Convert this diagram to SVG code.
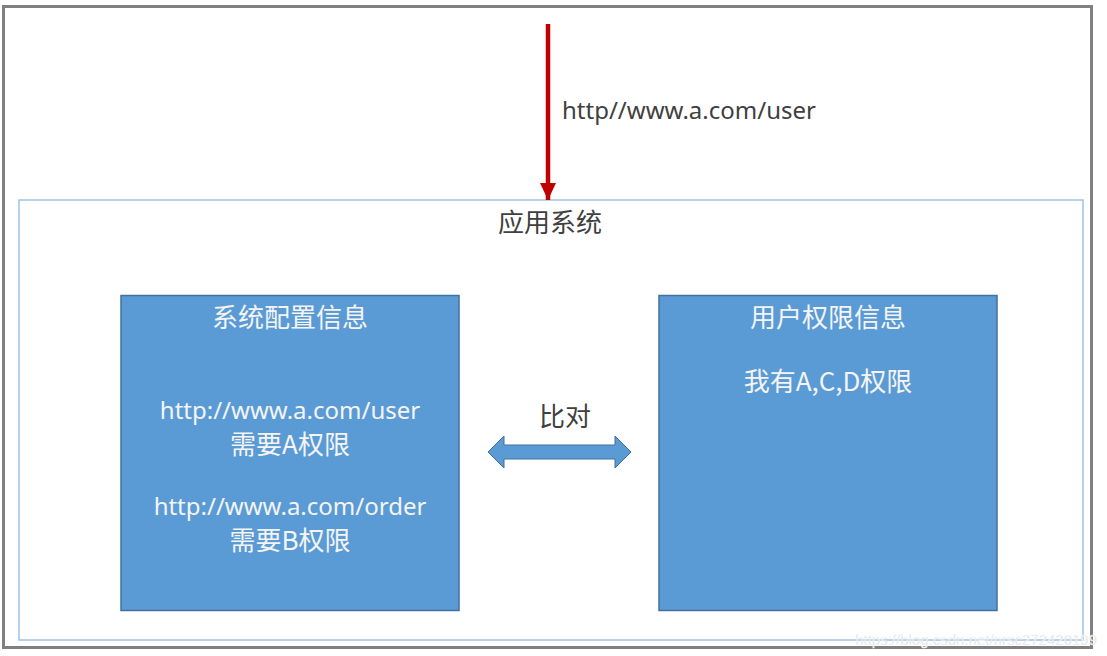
<svg xmlns="http://www.w3.org/2000/svg" width="1107" height="656" viewBox="0 0 1107 656">
<defs>
<style>
.t{font-family:"Noto Sans","Noto Sans CJK SC",sans-serif;font-size:24px;}
.c{font-family:"Noto Sans CJK SC",sans-serif;font-size:26px;}
.dark{fill:#404040;}
.light{fill:#F4F4F4;text-anchor:middle;}
.box{fill:#5B9BD5;stroke:#41719C;stroke-width:1.5;}
</style>
<marker id="redHead" markerUnits="userSpaceOnUse" markerWidth="18" markerHeight="18" refX="17" refY="9" orient="auto" viewBox="0 0 18 18">
<path d="M0,1 L17,9 L0,17 Z" fill="#C00000"/>
</marker>
</defs>
<rect x="0" y="0" width="1107" height="656" fill="#FFFFFF"/>
<rect id="frame" x="3.5" y="6.5" width="1088" height="641" fill="none" stroke="#808080" stroke-width="3"/>
<g id="app-system">
<rect x="19" y="200" width="1064" height="440" fill="none" stroke="#9DC3E6" stroke-width="1.5"/>
<text class="c dark" x="550" y="232" text-anchor="middle">应用系统</text>
</g>
<g id="sys-config">
<rect class="box" x="121" y="295.5" width="338" height="315"/>
<text class="c light" x="290" y="327">系统配置信息</text>
<text class="t light" x="290" y="419">http://www.a.com/user</text>
<text class="c light" x="290" y="454">需要A权限</text>
<text class="t light" x="290" y="515">http://www.a.com/order</text>
<text class="c light" x="290" y="550">需要B权限</text>
</g>
<g id="user-perm">
<rect class="box" x="659" y="295.5" width="338" height="315"/>
<text class="c light" x="828" y="327">用户权限信息</text>
<text class="c light" x="828" y="391">我有A,C,D权限</text>
</g>
<g id="connectors">
<line x1="548" y1="24" x2="548" y2="200" stroke="#C00000" stroke-width="4.5" marker-end="url(#redHead)"/>
<text class="t dark" x="562" y="119">http//www.a.com/user</text>
<path d="M488,452 L504,436 L504,445 L615,445 L615,436 L631,452 L615,468 L615,459 L504,459 L504,468 Z" fill="#5B9BD5" stroke="#41719C" stroke-width="1"/>
<text class="c dark" x="565" y="426" text-anchor="middle">比对</text>
</g>
<text x="1097" y="645" text-anchor="end" font-family="Liberation Sans, sans-serif" font-size="15" fill="#E0E0E0" stroke="#FFFFFF" stroke-width="0.3">https://blog.csdn.net/nrsc272420199</text>
</svg>
